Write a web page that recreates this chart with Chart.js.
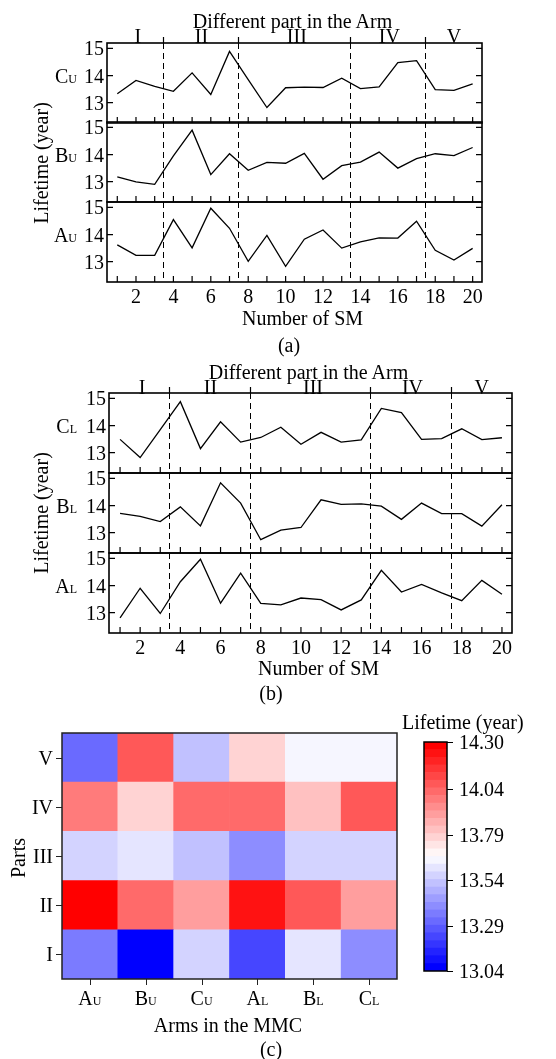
<!DOCTYPE html>
<html>
<head>
<meta charset="utf-8">
<script src="https://cdn.jsdelivr.net/npm/chart.js@4.4.1/dist/chart.umd.min.js"></script>
<style>
  body { margin: 0; background: #fff; width: 556px; height: 1059px; position: relative; overflow: hidden;
         font-family: "Liberation Serif", "Times New Roman", serif; color: #000; }
  canvas { position: absolute; }
  .t { position: absolute; font-size: 20px; line-height: 1; white-space: nowrap; }
  .s { font-size: 12px; }
</style>
</head>
<body>
<script>
/* ---------------- DATA ---------------- */
const smNumbers = [1, 2, 3, 4, 5, 6, 7, 8, 9, 10, 11, 12, 13, 14, 15, 16, 17, 18, 19, 20];

// upper arms, panel (a)
const lifeCU = [13.33, 13.82, 13.60, 13.42, 14.10, 13.30, 14.89, 13.85, 12.82, 13.55, 13.57, 13.56, 13.90, 13.52, 13.58, 14.48, 14.55, 13.48, 13.45, 13.69];
const lifeBU = [13.18, 12.99, 12.90, 13.95, 14.90, 13.26, 14.03, 13.42, 13.71, 13.68, 14.04, 13.09, 13.59, 13.72, 14.09, 13.50, 13.85, 14.03, 13.96, 14.26];
const lifeAU = [13.62, 13.23, 13.23, 14.55, 13.51, 14.97, 14.23, 13.01, 13.97, 12.83, 13.83, 14.17, 13.50, 13.73, 13.88, 13.87, 14.49, 13.42, 13.06, 13.49];

// lower arms, panel (b)
const lifeCL = [13.49, 12.82, 13.85, 14.88, 13.15, 14.14, 13.39, 13.56, 13.94, 13.31, 13.75, 13.39, 13.47, 14.63, 14.48, 13.49, 13.52, 13.88, 13.48, 13.55];
const lifeBL = [13.71, 13.60, 13.41, 13.95, 13.25, 14.84, 14.09, 12.74, 13.09, 13.19, 14.21, 14.04, 14.06, 13.98, 13.49, 14.09, 13.70, 13.70, 13.24, 14.03];
const lifeAL = [12.81, 13.90, 12.97, 14.14, 14.97, 13.35, 14.46, 13.34, 13.29, 13.54, 13.48, 13.10, 13.47, 14.56, 13.76, 14.04, 13.73, 13.44, 14.19, 13.68];

const yTicks = [13, 14, 15];
const xTickLabels = [2, 4, 6, 8, 10, 12, 14, 16, 18, 20];
const partNames = ["I", "II", "III", "IV", "V"];
const partBounds = [3.45, 7.45, 13.45, 17.45];
const partCentres = [2.1, 5.5, 10.6, 15.55, 19.0];

// heatmap, panel (c): mean lifetime per part, columns A_U B_U C_U A_L B_L C_L
const armNames = ["A", "B", "C", "A", "B", "C"];
const armSubs = ["U", "U", "U", "L", "L", "L"];
const heatI   = [13.35, 13.04, 13.57, 13.21, 13.60, 13.39];
const heatII  = [14.30, 14.03, 13.90, 14.24, 14.07, 13.90];
const heatIII = [13.57, 13.60, 13.52, 13.39, 13.57, 13.57];
const heatIV  = [13.98, 13.77, 14.03, 14.03, 13.83, 14.07];
const heatV   = [13.30, 14.07, 13.52, 13.77, 13.65, 13.65];
const cbTicks = [13.04, 13.29, 13.54, 13.79, 14.04, 14.30];
const cbMin = 13.04, cbMax = 14.30, cbLevels = 30;

/* ---------------- HELPERS ---------------- */
const FONT = '20px "Liberation Serif", "Times New Roman", serif';
const SUBFONT = '12px "Liberation Serif", "Times New Roman", serif';
const W = 556;

function bwr(t) {
  if (t < 0.5) { const g = Math.round(510 * t); return `rgb(${g},${g},255)`; }
  const g = Math.round(510 * (1 - t));
  return `rgb(255,${g},${g})`;
}
function levelColour(v) {
  let i = Math.floor((v - cbMin) / (cbMax - cbMin) * cbLevels);
  i = Math.max(0, Math.min(cbLevels - 1, i));
  return bwr(i / (cbLevels - 1));
}

function addCanvas(left, top, w, h) {
  const c = document.createElement("canvas");
  c.width = w; c.height = h;
  c.style.left = left + "px"; c.style.top = top + "px";
  c.style.width = w + "px"; c.style.height = h + "px";
  document.body.appendChild(c);
  return c;
}

function label(html, x, y, align, rotate) {
  const d = document.createElement("div");
  d.className = "t";
  d.innerHTML = html;
  d.style.left = x + "px";
  d.style.top = y + "px";
  const tx = align === "r" ? "-100%" : align === "l" ? "0" : "-50%";
  d.style.transform = `translate(${tx},-50%)` + (rotate ? " rotate(-90deg)" : "");
  document.body.appendChild(d);
}

/* ---------------- LINE SUBPLOTS ---------------- */
const framePlugin = {
  id: "frame",
  beforeDatasetsDraw(chart) {
    const { ctx, chartArea: a, scales: { x } } = chart;
    ctx.save();
    ctx.strokeStyle = "#000";
    ctx.lineWidth = 1;
    ctx.setLineDash([6, 4]);
    partBounds.forEach((b) => {
      const px = Math.round(x.getPixelForValue(b)) + 0.5;
      ctx.beginPath(); ctx.moveTo(px, a.top); ctx.lineTo(px, a.bottom); ctx.stroke();
    });
    ctx.restore();
  },
  afterDatasetsDraw(chart, args, opts) {
    const { ctx, chartArea: a, scales: { x, y } } = chart;
    ctx.save();
    ctx.strokeStyle = "#000";
    ctx.fillStyle = "#000";
    ctx.lineWidth = 1.2;
    ctx.beginPath();
    // inward y ticks, both sides
    yTicks.forEach((v) => {
      const py = y.getPixelForValue(v);
      ctx.moveTo(a.left, py); ctx.lineTo(a.left + 6, py);
      ctx.moveTo(a.right, py); ctx.lineTo(a.right - 6, py);
    });
    // inward x ticks on the bottom edge
    smNumbers.forEach((n) => {
      const px = x.getPixelForValue(n);
      ctx.moveTo(px, a.bottom); ctx.lineTo(px, a.bottom - 6);
    });
    // part dividers on the top axis
    if (opts.isTop) {
      partBounds.forEach((b) => {
        const px = Math.round(x.getPixelForValue(b)) + 0.5;
        ctx.moveTo(px, a.top); ctx.lineTo(px, a.top - 6);
      });
    }
    ctx.stroke();

    ctx.lineWidth = 1.6;
    ctx.strokeRect(a.left, a.top, a.right - a.left, a.bottom - a.top);

    ctx.font = FONT;
    ctx.textAlign = "right";
    ctx.textBaseline = "alphabetic";
    yTicks.forEach((v) => ctx.fillText(String(v), a.left - 3, y.getPixelForValue(v) + 7));
    if (opts.isBottom) {
      ctx.textAlign = "center";
      xTickLabels.forEach((n) => ctx.fillText(String(n), x.getPixelForValue(n), a.bottom + 21));
    }
    ctx.restore();
  }
};

function lineSubplot(values, left, right, rowTop, rowH, isTop, isBottom) {
  const padTop = 14, padBottom = isBottom ? 34 : 4;
  const canvas = addCanvas(0, rowTop - padTop, W, rowH + padTop + padBottom);
  const chart = new Chart(canvas, {
    type: "line",
    data: {
      datasets: [{
        data: smNumbers.map((n, i) => ({ x: n, y: values[i] })),
        borderColor: "#000",
        borderWidth: 1.3,
        pointRadius: 0,
        tension: 0
      }]
    },
    options: {
      responsive: false,
      animation: false,
      events: [],
      layout: { padding: { left: left, right: W - right, top: padTop, bottom: padBottom } },
      scales: {
        x: { type: "linear", min: 0.45, max: 20.5, display: false },
        y: { type: "linear", min: 12.25, max: 15.2, display: false }
      },
      plugins: { legend: { display: false }, tooltip: { enabled: false }, frame: { isTop, isBottom } }
    },
    plugins: [framePlugin]
  });
  chart.pageTop = rowTop - padTop;
  return chart;
}

function linePanel(series, names, subs, left, right, tops, rowH, titleY, partY, smY, capX, capY, tag) {
  const charts = series.map((vals, i) =>
    lineSubplot(vals, left, right, tops[i], rowH, i === 0, i === series.length - 1));

  charts.forEach((c, i) => {
    const yMid = c.pageTop + c.scales.y.getPixelForValue(14);
    label(`${names[i]}<span class="s">${subs[i]}</span>`, 77, yMid, "r");
  });

  const top = charts[0];
  const xs = top.scales.x;
  label("Different part in the Arm", (xs.getPixelForValue(0.45) + xs.getPixelForValue(20.5)) / 2 - 2, titleY, "c");
  partNames.forEach((p, i) => label(p, xs.getPixelForValue(partCentres[i]), partY, "c"));

  const midY = (tops[0] + tops[tops.length - 1] + rowH) / 2;
  label("Lifetime (year)", 41, midY, "c", true);
  label("Number of SM", (xs.getPixelForValue(0.45) + xs.getPixelForValue(20.5)) / 2 + 8, smY, "c");
  label(tag, capX, capY, "c");
}

linePanel([lifeCU, lifeBU, lifeAU], ["C", "B", "A"], ["U", "U", "U"],
  107, 482, [43, 122, 202], 80, 21, 36, 318, 289, 345, "(a)");
linePanel([lifeCL, lifeBL, lifeAL], ["C", "B", "A"], ["L", "L", "L"],
  109, 512, [393, 473, 553], 80, 372, 387, 668, 271, 693, "(b)");

/* ---------------- HEATMAP ---------------- */
const heatRows = [heatI, heatII, heatIII, heatIV, heatV];

const heatPlugin = {
  id: "heatFrame",
  afterDatasetsDraw(chart) {
    const { ctx, chartArea: a, scales: { x, y } } = chart;
    ctx.save();
    ctx.strokeStyle = "#222";
    ctx.fillStyle = "#000";
    ctx.lineWidth = 1.5;
    ctx.strokeRect(a.left, a.top, a.right - a.left, a.bottom - a.top);
    ctx.lineWidth = 1;
    ctx.beginPath();
    partNames.forEach((p, i) => {
      const py = Math.round(y.getPixelForValue(i + 0.5)) + 0.5;
      ctx.moveTo(a.left - 6, py); ctx.lineTo(a.left, py);
    });
    armNames.forEach((n, j) => {
      const px = Math.round(x.getPixelForValue(j)) + 0.5;
      ctx.moveTo(px, a.bottom); ctx.lineTo(px, a.bottom + 6);
    });
    ctx.stroke();

    ctx.font = FONT;
    ctx.textBaseline = "alphabetic";
    ctx.textAlign = "right";
    partNames.forEach((p, i) => ctx.fillText(p, a.left - 9, y.getPixelForValue(i + 0.5) + 7));
    ctx.textAlign = "left";
    armNames.forEach((n, j) => {
      ctx.font = FONT;
      const w1 = ctx.measureText(n).width;
      ctx.font = SUBFONT;
      const w2 = ctx.measureText(armSubs[j]).width;
      const x0 = x.getPixelForValue(j) - (w1 + w2) / 2;
      ctx.font = FONT;
      ctx.fillText(n, x0, a.bottom + 26);
      ctx.font = SUBFONT;
      ctx.fillText(armSubs[j], x0 + w1, a.bottom + 26);
    });
    ctx.restore();
  }
};

const heatCanvas = addCanvas(0, 725, 420, 290);
new Chart(heatCanvas, {
  type: "bar",
  data: {
    labels: armNames.map((n, j) => n + armSubs[j]),
    datasets: heatRows.map((row, i) => ({
      label: partNames[i],
      data: row.map(() => 1),
      backgroundColor: row.map(levelColour),
      borderWidth: 0,
      barPercentage: 1,
      categoryPercentage: 1
    }))
  },
  options: {
    responsive: false,
    animation: false,
    events: [],
    layout: { padding: { left: 62, right: 420 - 397, top: 8, bottom: 290 - (979 - 725) } },
    scales: {
      x: { stacked: true, display: false },
      y: { stacked: true, min: 0, max: 5, display: false }
    },
    plugins: { legend: { display: false }, tooltip: { enabled: false } }
  },
  plugins: [heatPlugin]
});

label("Parts", 18, 858, "c", true);
label("Arms in the MMC", 228, 1025, "c");
label("(c)", 271, 1049, "c");

/* ---------------- COLORBAR ---------------- */
const cbPlugin = {
  id: "cbFrame",
  afterDatasetsDraw(chart) {
    const { ctx, chartArea: a, scales: { y } } = chart;
    ctx.save();
    ctx.strokeStyle = "#000";
    ctx.fillStyle = "#000";
    ctx.lineWidth = 1.5;
    ctx.strokeRect(a.left, a.top, a.right - a.left, a.bottom - a.top);
    ctx.lineWidth = 1;
    ctx.beginPath();
    cbTicks.forEach((v) => {
      const py = Math.round(y.getPixelForValue(v)) + 0.5;
      ctx.moveTo(a.right, py); ctx.lineTo(a.right + 6, py);
    });
    ctx.stroke();
    ctx.font = FONT;
    ctx.textAlign = "left";
    ctx.textBaseline = "alphabetic";
    cbTicks.forEach((v) => ctx.fillText(v.toFixed(2), a.right + 12, y.getPixelForValue(v) + 7));
    ctx.restore();
  }
};

const step = (cbMax - cbMin) / cbLevels;
const cbCanvas = addCanvas(400, 735, 156, 245);
new Chart(cbCanvas, {
  type: "bar",
  data: {
    labels: ["cb"],
    datasets: Array.from({ length: cbLevels }, (_, i) => ({
      data: [[cbMin + i * step, cbMin + (i + 1) * step]],
      backgroundColor: bwr(i / (cbLevels - 1)),
      borderWidth: 0,
      grouped: false,
      barPercentage: 1,
      categoryPercentage: 1
    }))
  },
  options: {
    responsive: false,
    animation: false,
    events: [],
    layout: { padding: { left: 24, right: 156 - 47, top: 7, bottom: 9 } },
    scales: {
      x: { display: false },
      y: { min: cbMin, max: cbMax, display: false }
    },
    plugins: { legend: { display: false }, tooltip: { enabled: false } }
  },
  plugins: [cbPlugin]
});

label("Lifetime (year)", 402, 722, "l");
</script>
</body>
</html>
